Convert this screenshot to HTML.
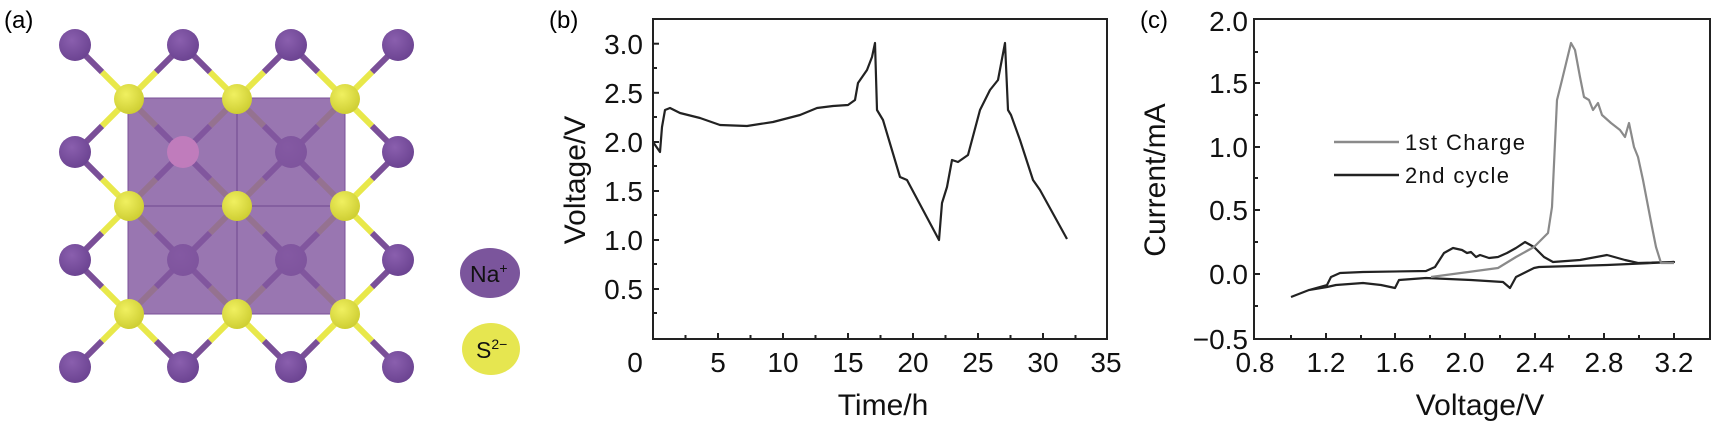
<!DOCTYPE html>
<html><head><meta charset="utf-8"><style>
html,body{margin:0;padding:0;background:#fff;}
svg{display:block;font-family:"Liberation Sans",sans-serif;}
</style></head><body>
<svg width="1724" height="428" viewBox="0 0 1724 428" xmlns="http://www.w3.org/2000/svg">
<defs>
<g id="cross">
<line x1="0" y1="0" x2="-27" y2="-27" stroke="#e8e84a" stroke-width="6"/>
<line x1="-27" y1="-27" x2="-54" y2="-54" stroke="#7a4f98" stroke-width="6"/>
<line x1="0" y1="0" x2="27" y2="-27" stroke="#e8e84a" stroke-width="6"/>
<line x1="27" y1="-27" x2="54" y2="-54" stroke="#7a4f98" stroke-width="6"/>
<line x1="0" y1="0" x2="-27" y2="27" stroke="#e8e84a" stroke-width="6"/>
<line x1="-27" y1="27" x2="-54" y2="54" stroke="#7a4f98" stroke-width="6"/>
<line x1="0" y1="0" x2="27" y2="27" stroke="#e8e84a" stroke-width="6"/>
<line x1="27" y1="27" x2="54" y2="54" stroke="#7a4f98" stroke-width="6"/>
</g>
<radialGradient id="pg" cx="0.4" cy="0.35" r="0.7"><stop offset="0" stop-color="#8a5fae"/><stop offset="1" stop-color="#6a4290"/></radialGradient>
<radialGradient id="yg" cx="0.4" cy="0.35" r="0.7"><stop offset="0" stop-color="#f0f060"/><stop offset="1" stop-color="#cccc30"/></radialGradient>
</defs>

<!-- Panel a -->
<text x="4" y="28" font-size="24">(a)</text>
<g>
<use href="#cross" x="129" y="99"/><use href="#cross" x="237" y="99"/><use href="#cross" x="345" y="99"/>
<use href="#cross" x="129" y="206"/><use href="#cross" x="237" y="206"/><use href="#cross" x="345" y="206"/>
<use href="#cross" x="129" y="314"/><use href="#cross" x="237" y="314"/><use href="#cross" x="345" y="314"/>
</g>
<g fill="url(#pg)">
<circle cx="75" cy="45" r="16"/><circle cx="183" cy="45" r="16"/><circle cx="291" cy="45" r="16"/><circle cx="398" cy="45" r="16"/>
<circle cx="75" cy="152" r="16"/><circle cx="291" cy="152" r="16"/><circle cx="398" cy="152" r="16"/>
<circle cx="75" cy="260" r="16"/><circle cx="183" cy="260" r="16"/><circle cx="291" cy="260" r="16"/><circle cx="398" cy="260" r="16"/>
<circle cx="75" cy="367" r="16"/><circle cx="183" cy="367" r="16"/><circle cx="291" cy="367" r="16"/><circle cx="398" cy="367" r="16"/>
</g>
<rect x="128" y="98" width="217" height="216" fill="#8258a0" fill-opacity="0.82" stroke="#7a5098" stroke-width="1"/>
<line x1="237" y1="98" x2="237" y2="314" stroke="#6f4890" stroke-width="1"/>
<line x1="128" y1="206" x2="345" y2="206" stroke="#6f4890" stroke-width="1"/>
<circle cx="183" cy="152" r="16" fill="#c07cbc"/>
<g fill="url(#yg)">
<circle cx="129" cy="99" r="15"/><circle cx="237" cy="99" r="15"/><circle cx="345" cy="99" r="15"/>
<circle cx="129" cy="206" r="15"/><circle cx="237" cy="206" r="15"/><circle cx="345" cy="206" r="15"/>
<circle cx="129" cy="314" r="15"/><circle cx="237" cy="314" r="15"/><circle cx="345" cy="314" r="15"/>
</g>
<ellipse cx="490" cy="273" rx="30" ry="25" fill="#7b559c"/>
<text x="470" y="282" font-size="23" fill="#111">Na<tspan dy="-9" font-size="14">+</tspan></text>
<ellipse cx="491" cy="349" rx="29" ry="26" fill="#e6e650"/>
<text x="476" y="358" font-size="23" fill="#111">S<tspan dy="-9" font-size="14">2−</tspan></text>

<!-- Panel b -->
<text x="549" y="28" font-size="24">(b)</text>
<rect x="653" y="19" width="454" height="320" fill="none" stroke="#222" stroke-width="2"/>
<g stroke="#222" stroke-width="2">
<line x1="653" y1="43.7" x2="659" y2="43.7"/><line x1="653" y1="68" x2="657" y2="68"/>
<line x1="653" y1="92.8" x2="659" y2="92.8"/><line x1="653" y1="117" x2="657" y2="117"/>
<line x1="653" y1="142" x2="659" y2="142"/><line x1="653" y1="166" x2="657" y2="166"/>
<line x1="653" y1="191" x2="659" y2="191"/><line x1="653" y1="215" x2="657" y2="215"/>
<line x1="653" y1="240" x2="659" y2="240"/><line x1="653" y1="264" x2="657" y2="264"/>
<line x1="653" y1="289" x2="659" y2="289"/><line x1="653" y1="313" x2="657" y2="313"/>
<line x1="685.5" y1="339" x2="685.5" y2="335"/><line x1="718" y1="339" x2="718" y2="333"/>
<line x1="750.5" y1="339" x2="750.5" y2="335"/><line x1="783" y1="339" x2="783" y2="333"/>
<line x1="815.5" y1="339" x2="815.5" y2="335"/><line x1="848" y1="339" x2="848" y2="333"/>
<line x1="880.5" y1="339" x2="880.5" y2="335"/><line x1="913" y1="339" x2="913" y2="333"/>
<line x1="945.5" y1="339" x2="945.5" y2="335"/><line x1="978" y1="339" x2="978" y2="333"/>
<line x1="1010.5" y1="339" x2="1010.5" y2="335"/><line x1="1043" y1="339" x2="1043" y2="333"/>
<line x1="1075.5" y1="339" x2="1075.5" y2="335"/>
</g>
<g font-size="28" fill="#111" text-anchor="end">
<text x="643" y="54">3.0</text><text x="643" y="103">2.5</text><text x="643" y="152">2.0</text>
<text x="643" y="201">1.5</text><text x="643" y="250">1.0</text><text x="643" y="299">0.5</text>
</g>
<g font-size="28" fill="#111" text-anchor="middle">
<text x="635" y="372">0</text><text x="718" y="372">5</text><text x="783" y="372">10</text>
<text x="848" y="372">15</text><text x="913" y="372">20</text><text x="978" y="372">25</text>
<text x="1043" y="372">30</text><text x="1106" y="372">35</text>
</g>
<text x="883" y="415" font-size="30" text-anchor="middle" fill="#111">Time/h</text>
<text transform="translate(585,180) rotate(-90)" font-size="30" text-anchor="middle" fill="#111">Voltage/V</text>
<polyline fill="none" stroke="#222" stroke-width="2.2" stroke-linejoin="round" points="653,142 660,152 662,127 665,110 670,108 680,113 700,118 720,125 747,126 773,122 800,115 817,108 833,106 848,105 855,100 858,83 867,70 872,57 875,43 877,110 883,120 900,177 907,180 939,240 942,203 947,187 952,160 958,162 968,155 980,110 990,90 998,80 1005,43 1008,110 1011,115 1020,140 1033,180 1040,190 1067,239"/>

<!-- Panel c -->
<text x="1140" y="28" font-size="24">(c)</text>
<rect x="1254" y="19" width="456" height="320" fill="none" stroke="#222" stroke-width="2"/>
<g stroke="#222" stroke-width="2">
<line x1="1254" y1="52" x2="1258" y2="52"/><line x1="1254" y1="83" x2="1260" y2="83"/>
<line x1="1254" y1="115" x2="1258" y2="115"/><line x1="1254" y1="147" x2="1260" y2="147"/>
<line x1="1254" y1="178" x2="1258" y2="178"/><line x1="1254" y1="210" x2="1260" y2="210"/>
<line x1="1254" y1="242" x2="1258" y2="242"/><line x1="1254" y1="274" x2="1260" y2="274"/>
<line x1="1254" y1="306" x2="1258" y2="306"/>
<line x1="1291" y1="339" x2="1291" y2="335"/><line x1="1326" y1="339" x2="1326" y2="333"/>
<line x1="1361" y1="339" x2="1361" y2="335"/><line x1="1395" y1="339" x2="1395" y2="333"/>
<line x1="1430" y1="339" x2="1430" y2="335"/><line x1="1465" y1="339" x2="1465" y2="333"/>
<line x1="1500" y1="339" x2="1500" y2="335"/><line x1="1535" y1="339" x2="1535" y2="333"/>
<line x1="1569" y1="339" x2="1569" y2="335"/><line x1="1604" y1="339" x2="1604" y2="333"/>
<line x1="1639" y1="339" x2="1639" y2="335"/><line x1="1674" y1="339" x2="1674" y2="333"/>
</g>
<g font-size="28" fill="#111" text-anchor="end">
<text x="1248" y="31">2.0</text><text x="1248" y="93">1.5</text><text x="1248" y="157">1.0</text>
<text x="1248" y="220">0.5</text><text x="1248" y="284">0.0</text><text x="1248" y="349">−0.5</text>
</g>
<g font-size="28" fill="#111" text-anchor="middle">
<text x="1255" y="372">0.8</text><text x="1326" y="372">1.2</text><text x="1395" y="372">1.6</text>
<text x="1465" y="372">2.0</text><text x="1535" y="372">2.4</text><text x="1604" y="372">2.8</text>
<text x="1674" y="372">3.2</text>
</g>
<text x="1480" y="415" font-size="30" text-anchor="middle" fill="#111">Voltage/V</text>
<text transform="translate(1165,180) rotate(-90)" font-size="30" text-anchor="middle" fill="#111">Current/mA</text>
<polyline fill="none" stroke="#222" stroke-width="2.2" stroke-linejoin="round" points="1291,297 1309,290 1327,285 1331,277 1340,273 1363,272 1426,271 1435,267 1444,253 1453,248 1462,250 1467,253 1471,252 1476,257 1480,255 1489,258 1498,257 1507,253 1516,248 1525,242 1534,247 1544,257 1553,262 1580,260 1607,255 1625,260 1638,263 1674,262 1607,265 1539,267 1534,268 1516,277 1510,288 1503,282 1471,280 1426,278 1399,280 1395,288 1381,285 1363,283 1336,285 1327,287 1309,290 1291,297"/>
<polyline fill="none" stroke="#8a8a8a" stroke-width="2.2" stroke-linejoin="round" points="1431,277 1498,268 1516,257 1534,247 1548,233 1552,207 1557,100 1562,80 1571,43 1575,50 1580,77 1584,97 1589,100 1593,110 1598,103 1602,115 1611,123 1620,130 1625,137 1629,123 1634,147 1638,157 1643,180 1652,227 1656,247 1661,263 1674,263"/>
<line x1="1334" y1="142" x2="1399" y2="142" stroke="#8a8a8a" stroke-width="2.5"/>
<line x1="1334" y1="175" x2="1399" y2="175" stroke="#222" stroke-width="2.5"/>
<text x="1405" y="150" font-size="22" fill="#111" textLength="120">1st Charge</text>
<text x="1405" y="183" font-size="22" fill="#111" textLength="104">2nd cycle</text>
</svg>
</body></html>
